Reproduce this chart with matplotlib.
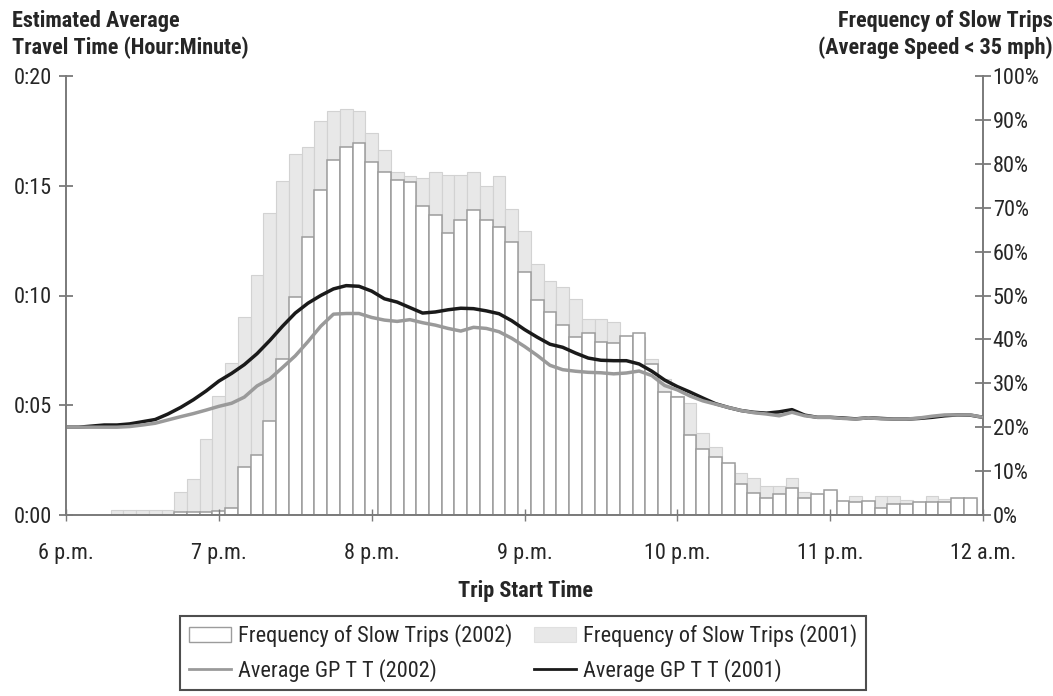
import numpy as np
import matplotlib
matplotlib.use("Agg")
import matplotlib.pyplot as plt
from matplotlib.patches import Patch
from matplotlib.lines import Line2D

plt.rcParams['font.family'] = ['Roboto Condensed', 'Archivo Narrow', 'Liberation Sans', 'DejaVu Sans']

# minutes after 6 p.m.
bar_times = np.arange(20, 360, 5)      # 6:20 p.m. ... 11:55 p.m.
line_times = np.arange(0, 361, 5)      # 6:00 p.m. ... 12:00 a.m.

# frequency of slow trips, % (right axis)
freq_2001 = [1.1, 1.1, 1.1, 1.1, 1.1, 5.2, 8.3, 17.3, 27.0, 34.6,
             45.2, 54.7, 68.9, 76.1, 82.2, 83.9, 89.8, 92.0, 92.5, 92.1,
             87.1, 83.1, 78.2, 77.3, 76.8, 78.2, 77.4, 77.4, 78.2, 74.9,
             77.3, 69.7, 64.8, 57.2, 53.4, 52.0, 49.2, 44.7, 44.7, 44.0,
             40.0, 40.5, 35.5, 31.0, 27.0, 25.4, 18.6, 15.4, 11.5, 9.5,
             8.4, 6.6, 6.6, 8.4, 5.3, 4.5, 5.5, 3.2, 4.4, 3.2,
             4.4, 4.3, 3.5, 2.9, 4.4, 3.7, 3.7, 3.7]
freq_2002 = [0, 0, 0, 0, 0, 0.7, 0.7, 0.7, 0.8, 1.6,
             11.0, 13.7, 21.3, 35.6, 49.6, 63.3, 74.0, 80.9, 83.9, 84.8,
             80.3, 78.1, 76.4, 75.8, 70.5, 68.3, 64.2, 67.2, 69.4, 67.2,
             65.5, 62.3, 55.3, 49.0, 46.2, 43.2, 40.6, 41.4, 39.3, 39.1,
             40.8, 41.4, 34.3, 28.0, 26.8, 18.2, 15.0, 13.2, 11.8, 7.0,
             4.9, 3.9, 4.8, 6.2, 3.9, 4.8, 5.8, 3.1, 2.9, 3.1,
             1.6, 2.5, 2.4, 2.9, 2.9, 2.9, 3.9, 3.9]

# average GP travel time, minutes (left axis)
gptt_2001 = [4.0, 4.0, 4.05, 4.1, 4.1, 4.15, 4.25, 4.35, 4.6, 4.9,
             5.25, 5.65, 6.1, 6.45, 6.85, 7.35, 7.95, 8.6, 9.2, 9.65,
             10.0, 10.3, 10.45, 10.42, 10.2, 9.85, 9.7, 9.45, 9.2, 9.25,
             9.35, 9.42, 9.4, 9.3, 9.17, 8.85, 8.45, 8.1, 7.78, 7.64,
             7.38, 7.15, 7.05, 7.03, 7.03, 6.88, 6.55, 6.15, 5.85, 5.6,
             5.33, 5.07, 4.9, 4.76, 4.68, 4.64, 4.7, 4.8, 4.55, 4.45,
             4.45, 4.42, 4.38, 4.43, 4.4, 4.37, 4.37, 4.4, 4.45, 4.52,
             4.56, 4.55, 4.45]
gptt_2002 = [4.0, 4.0, 4.0, 4.0, 4.0, 4.03, 4.1, 4.18, 4.33, 4.48,
             4.62, 4.78, 4.95, 5.09, 5.37, 5.88, 6.2, 6.72, 7.25, 7.9,
             8.6, 9.15, 9.18, 9.18, 9.0, 8.88, 8.82, 8.9, 8.76, 8.65,
             8.5, 8.38, 8.55, 8.5, 8.35, 8.05, 7.68, 7.27, 6.82, 6.62,
             6.55, 6.5, 6.48, 6.43, 6.47, 6.56, 6.35, 5.9, 5.7, 5.42,
             5.2, 5.05, 4.9, 4.76, 4.66, 4.6, 4.52, 4.68, 4.52, 4.45,
             4.45, 4.4, 4.37, 4.43, 4.38, 4.37, 4.37, 4.42, 4.5, 4.56,
             4.56, 4.56, 4.45]

x_ticks = [0, 60, 120, 180, 240, 300, 360]
x_labels = ['6 p.m.', '7 p.m.', '8 p.m.', '9 p.m.', '10 p.m.', '11 p.m.', '12 a.m.']
y_ticks = [0, 5, 10, 15, 20]
y_labels = ['0:00', '0:05', '0:10', '0:15', '0:20']

W, H = 1053, 696
axis_col = '#7a7a7a'
txt_col = '#262626'
fs = 16
fig = plt.figure(figsize=(W / 100, H / 100), dpi=100)
ax = fig.add_axes([66 / W, 1 - 515 / H, (983 - 66) / W, (515 - 76) / H])
ax2 = ax.twinx()

# bars on the percentage axis
ax2.bar(bar_times, freq_2001, width=5, color='#e8e8e8', edgecolor='#d2d2d2', linewidth=0.8)
ax2.bar(bar_times, freq_2002, width=5, color='white', edgecolor='#9c9c9c', linewidth=1.1)
ax2.set_ylim(0, 100)
ax2.set_yticks(range(0, 101, 10))
ax2.set_yticklabels([f'{v}%' for v in range(0, 101, 10)])

# travel time lines in front
ax.set_zorder(ax2.get_zorder() + 1)
ax.patch.set_visible(False)
ax.plot(line_times, gptt_2001, color='#1a1a1a', lw=2.5, solid_capstyle='butt')
ax.plot(line_times, gptt_2002, color='#9a9a9a', lw=2.5, solid_capstyle='butt')
ax.set_xlim(0, 360)
ax.set_ylim(0, 20)
ax.set_xticks(x_ticks)
ax.set_xticklabels(x_labels)
ax.set_yticks(y_ticks)
ax.set_yticklabels(y_labels)

for s in ['top', 'right']:
    ax.spines[s].set_visible(False)
for s in ['top', 'left', 'bottom']:
    ax2.spines[s].set_visible(False)
for sp in [ax.spines['left'], ax.spines['bottom'], ax2.spines['right']]:
    sp.set_color(axis_col)
    sp.set_linewidth(1.4)

ax.tick_params(axis='y', direction='inout', length=10, width=1.3, color=axis_col,
               labelsize=fs, pad=5, labelcolor=txt_col)
ax.tick_params(axis='x', direction='inout', length=8, width=1.0, color=axis_col,
               labelsize=fs, pad=16, labelcolor=txt_col)
ax2.tick_params(axis='y', direction='inout', length=12, width=1.3, color=axis_col,
                labelsize=fs, pad=1, labelcolor=txt_col)

fig.text(12 / W, 1 - 10 / H, 'Estimated Average\nTravel Time (Hour:Minute)', ha='left', va='top',
         fontsize=fs, fontweight='bold', linespacing=1.25, color=txt_col)
fig.text(1.0, 1 - 10 / H, 'Frequency of Slow Trips\n(Average Speed < 35 mph)', ha='right', va='top',
         fontsize=fs, fontweight='bold', linespacing=1.25, multialignment='right', color=txt_col)
fig.text(526 / W, 1 - 591 / H, 'Trip Start Time', ha='center', va='center',
         fontsize=fs, fontweight='bold', color=txt_col)

handles = [Patch(facecolor='white', edgecolor='#9c9c9c', linewidth=1.0),
           Line2D([], [], color='#9a9a9a', lw=2.0),
           Patch(facecolor='#e8e8e8', edgecolor='#e0e0e0', linewidth=0.8),
           Line2D([], [], color='#1a1a1a', lw=2.0)]
labels = ['Frequency of Slow Trips (2002)', 'Average GP T T (2002)',
          'Frequency of Slow Trips (2001)', 'Average GP T T (2001)']
leg = fig.legend(handles, labels, ncol=2, loc='center', bbox_to_anchor=(523 / W, 1 - 653 / H),
                 fontsize=fs, frameon=True, fancybox=False, edgecolor='#222222',
                 handlelength=1.9, handleheight=0.6, handletextpad=0.3, columnspacing=1.0,
                 labelspacing=0.5, borderpad=0.4)
leg.get_frame().set_linewidth(1.5)
for t in leg.get_texts():
    t.set_color(txt_col)

fig.savefig('out.png', dpi=100)
